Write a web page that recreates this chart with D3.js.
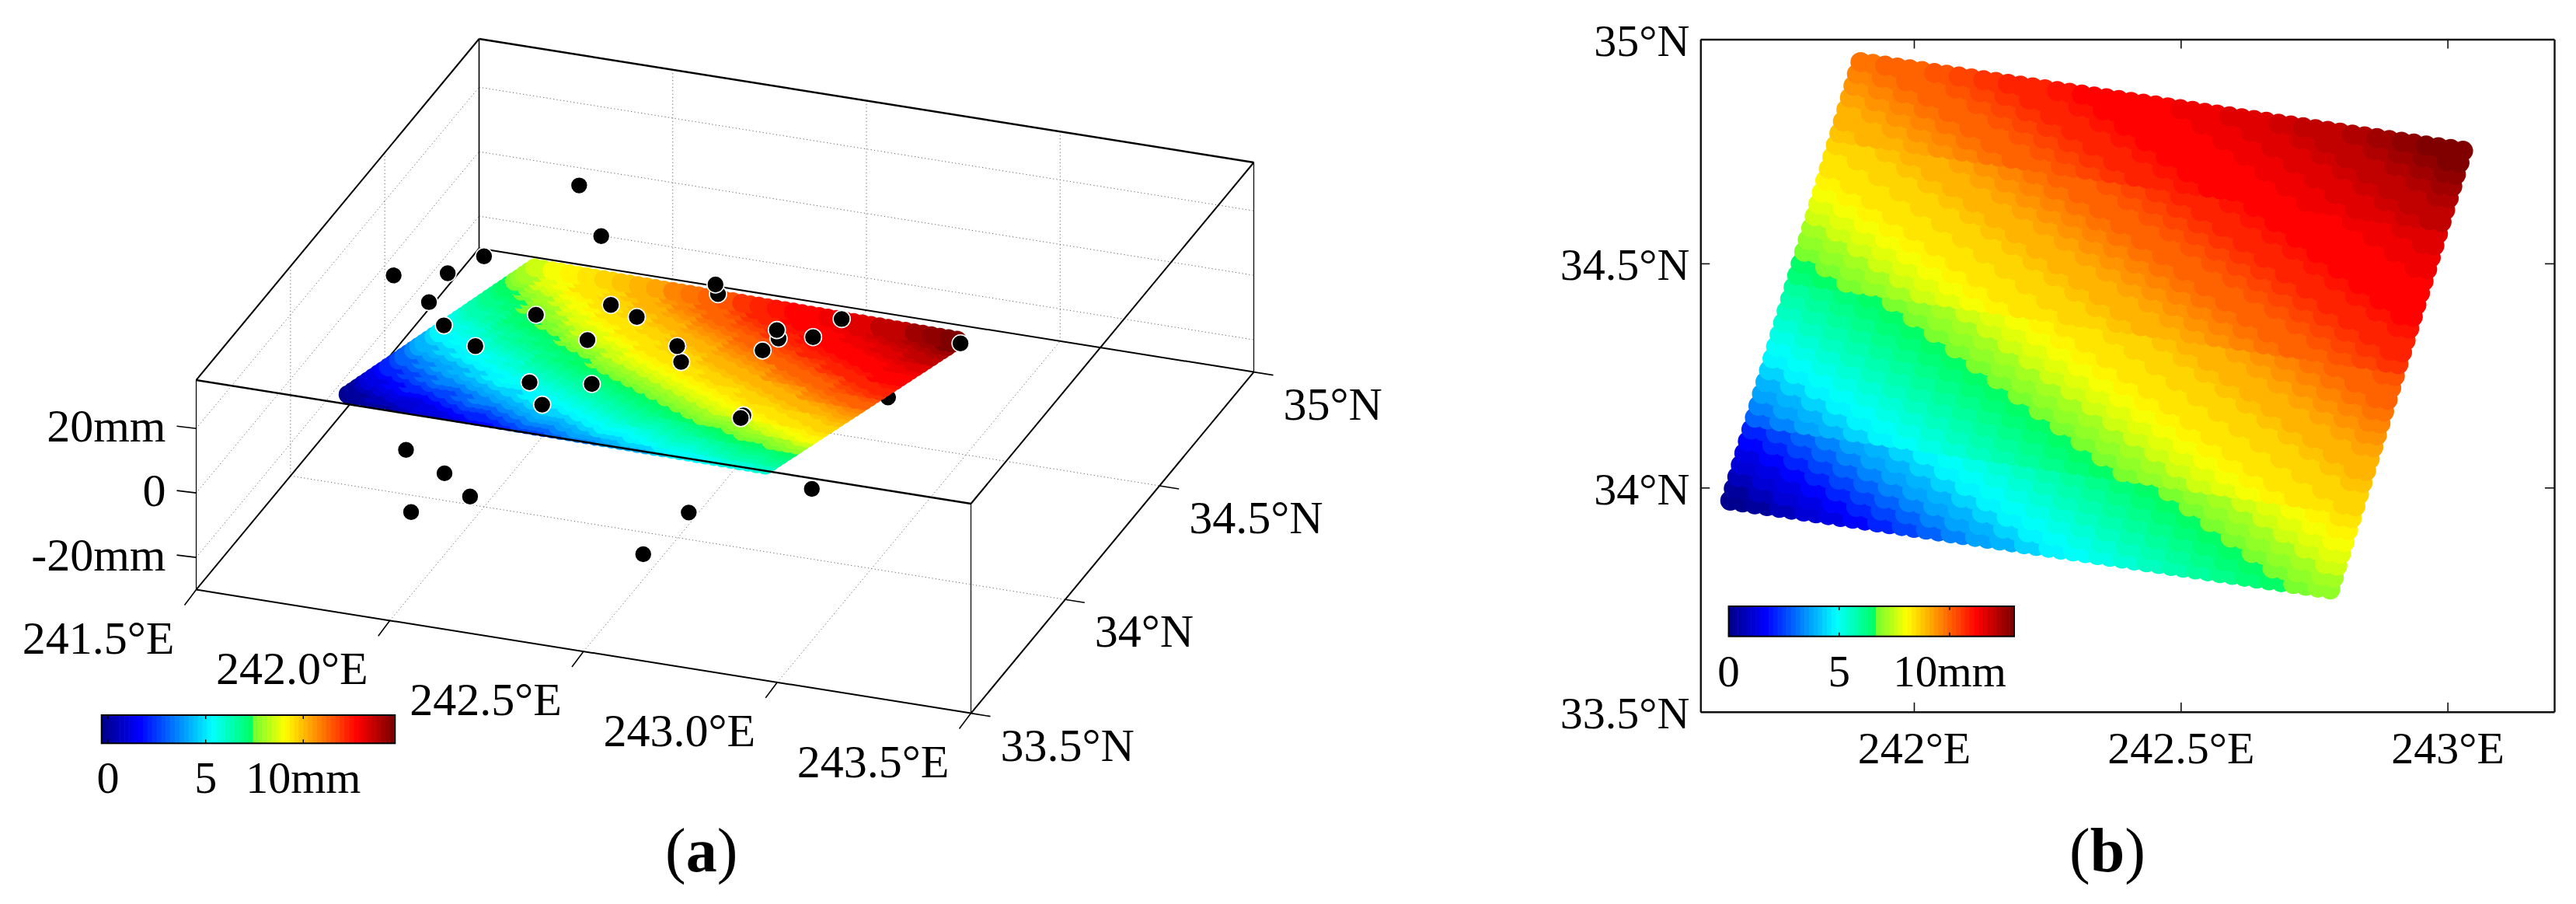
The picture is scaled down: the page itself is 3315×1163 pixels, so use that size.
<!DOCTYPE html>
<html>
<head>
<meta charset="utf-8">
<script src="https://cdn.jsdelivr.net/npm/d3@7/dist/d3.min.js"></script>
<style>
html,body{margin:0;padding:0;background:#fff;}
svg{display:block;}
text{font-family:"Liberation Serif",serif;fill:#000;}
</style>
</head>
<body>
<svg id="chart" width="3315" height="1163"></svg>
<script>
// ---- axis ticks and labels ----
const lonTicks3D = [241.5, 242, 242.5, 243, 243.5];
const lonLabels3D = ["241.5°E", "242.0°E", "242.5°E", "243.0°E", "243.5°E"];
const latTicks3D = [33.5, 34, 34.5, 35];
const latLabels3D = ["33.5°N", "34°N", "34.5°N", "35°N"];
const zTicks = [-20, 0, 20];
const zLabels = ["-20mm", "0", "20mm"];
const lonTicksMap = [242, 242.5, 243];
const lonLabelsMap = ["242°E", "242.5°E", "243°E"];
const latTicksMap = [33.5, 34, 34.5, 35];
const latLabelsMap = ["33.5°N", "34°N", "34.5°N", "35°N"];
const barTicks = [0, 5, 10];
const barLabels = ["0", "5", "10mm"];

// ---- GPS stations of panel (a): lon, lat on the z = 0 plane ----
const stationBelowLon = [242.897];
const stationBelowLat = [34.299];
const stationLon = [241.792,241.938,241.709,241.539,241.658,241.670,241.748,241.859,241.938,242.090,242.172,242.103,242.051,242.196,242.122,242.314,242.290,242.358,242.319,242.536,242.516,242.522,242.612,242.643,242.601,242.600,241.897,242.029,242.131,242.026,242.660,242.635,242.896,242.960];
const stationLat = [34.931,34.748,34.597,34.467,34.509,34.385,34.304,34.243,34.402,34.487,34.456,34.336,34.136,34.168,34.057,34.595,34.631,34.309,34.368,34.460,34.492,34.404,34.487,34.575,34.140,34.128,33.797,33.730,33.656,33.559,33.729,33.539,33.897,34.554];

// ---- corners of the sampled swath (top-left, top-right, bottom-left, bottom-right) ----
const swathLonMap = [241.900, 243.029, 241.656, 242.780];
const swathLatMap = [34.949, 34.751, 33.971, 33.773];
const swathLon3D = [241.846, 242.946, 241.660, 242.745];
const swathLat3D = [34.584, 34.565, 33.976, 33.960];
const swathCols = 50, swathRows = 38;

// ---- deformation in mm, read off the picture along the direction of steepest change,
//      from the south-west corner to the north-east corner ----
const mmProfile = [0.0,0.4,0.7,1.1,1.4,1.8,2.2,2.5,2.9,3.3,3.7,4.0,4.4,4.8,5.0,5.2,5.4,5.5,5.7,5.9,6.1,6.3,6.5,6.7,7.0,7.2,7.5,7.7,8.0,8.1,8.3,8.4,8.5,8.6,8.7,8.9,9.0,9.1,9.3,9.5,9.7,9.9,10.1,10.3,10.4,10.6,10.8,10.9,11.1,11.2,11.2,11.3,11.3,11.4,11.5,11.6,11.7,11.8,12.0,12.1,12.3,12.4,12.6,12.8,12.9];
// where each swath row (north to south) starts and ends on that profile, panel (b)
const rowStartMap = [40,39,38,37,36,35,34,32,31,30,29,28,27,26,25,24,23,22,21,19,18,17,16,15,14,13,12,11,10,9,8,6,5,4,3,2,1,0];
const rowEndMap = [64,63,62,61,60,59,58,56,55,54,53,52,51,50,49,48,47,46,45,43,42,41,40,39,38,37,36,35,34,33,32,30,29,28,27,26,25,24];
// the same for panel (a)
const rowStart3D = [26,25,25,24,23,22,22,21,20,20,19,18,18,17,16,15,15,14,13,13,12,11,11,10,9,8,8,7,6,6,5,4,4,3,2,1,1,0];
const rowEnd3D = [64,63,61,60,59,58,56,55,54,52,51,50,48,47,46,45,43,42,41,39,38,37,35,34,33,32,30,29,28,26,25,24,22,21,20,19,17,16];
const mmMax = 12.93;

// ---- colour map ----
const jet = d3.scaleLinear()
  .domain([0, 0.125, 0.375, 0.51, 0.515, 0.625, 0.875, 1])
  .range(["rgb(0,0,143)", "rgb(0,0,255)", "rgb(0,255,255)", "rgb(0,255,100)", "rgb(110,255,50)", "rgb(255,255,0)", "rgb(255,0,0)", "rgb(128,0,0)"])
  .clamp(true);
const levels = d3.range(64);
const mmColor = mm => jet(Math.min(63, Math.floor(mm / mmMax * 64)) / 63);

const svg = d3.select("#chart");

// ---- swath nodes ----
function swathNodes(lons, lats, starts, ends) {
  const nodes = [];
  for (let j = swathRows - 1; j >= 0; j--) {
    const t = j / (swathRows - 1);
    for (let i = 0; i < swathCols; i++) {
      const u = i / (swathCols - 1);
      const blend = a => (1 - t) * ((1 - u) * a[0] + u * a[1]) + t * ((1 - u) * a[2] + u * a[3]);
      const place = Math.round(starts[j] + (ends[j] - starts[j]) * Math.floor(i / 2) / 24);
      nodes.push({lon: blend(lons), lat: blend(lats), mm: mmProfile[place]});
    }
  }
  return nodes;
}

// =========================== panel (a) ===========================
const lonSpan = [241.5, 243.5], latSpan = [33.5, 35], zSpan = [-30, 35];
const lonX = d3.scaleLinear().domain(lonSpan).range([252.5, 1249.5]);
const lonY = d3.scaleLinear().domain(lonSpan).range([0, 159]);
const latX = d3.scaleLinear().domain(latSpan).range([0, 364]);
const latY = d3.scaleLinear().domain(latSpan).range([0, -439]);
const zY = d3.scaleLinear().domain(zSpan).range([758.6, 489]);
const px = (lon, lat) => lonX(lon) + latX(lat);
const py = (lon, lat, z) => zY(z) + lonY(lon) + latY(lat);
const P = (lon, lat, z) => [px(lon, lat), py(lon, lat, z)];

const a = svg.append("g").attr("id", "panel-a");
const seg = (g, p, q, w, c, dash) => g.append("line")
  .attr("x1", p[0]).attr("y1", p[1]).attr("x2", q[0]).attr("y2", q[1])
  .attr("stroke", c || "#000").attr("stroke-width", w).attr("stroke-dasharray", dash || null);

// grid
const grid = a.append("g");
const [zLo, zHi] = zSpan, [lonLo, lonHi] = lonSpan, [latLo, latHi] = latSpan;
const gridColor = "#666", gridDash = "1.2 3.2";
lonTicks3D.slice(1, -1).forEach(lon => {
  seg(grid, P(lon, latLo, zLo), P(lon, latHi, zLo), 1, gridColor, gridDash);
  seg(grid, P(lon, latHi, zLo), P(lon, latHi, zHi), 1, gridColor, gridDash);
});
latTicks3D.slice(1, -1).forEach(lat => {
  seg(grid, P(lonLo, lat, zLo), P(lonHi, lat, zLo), 1, gridColor, gridDash);
  seg(grid, P(lonLo, lat, zLo), P(lonLo, lat, zHi), 1, gridColor, gridDash);
});
zTicks.forEach(z => {
  seg(grid, P(lonLo, latLo, z), P(lonLo, latHi, z), 1, gridColor, gridDash);
  seg(grid, P(lonLo, latHi, z), P(lonHi, latHi, z), 1, gridColor, gridDash);
});

// box edges under the surface
const under = a.append("g");
seg(under, P(lonLo, latLo, zHi), P(lonLo, latHi, zHi), 2);
seg(under, P(lonLo, latHi, zHi), P(lonHi, latHi, zHi), 2.4);
seg(under, P(lonLo, latLo, zLo), P(lonLo, latHi, zLo), 2);
seg(under, P(lonLo, latLo, zLo), P(lonHi, latLo, zLo), 2);
seg(under, P(lonHi, latLo, zLo), P(lonHi, latHi, zLo), 2);
seg(under, P(lonLo, latLo, zLo), P(lonLo, latLo, zHi), 1.2);
seg(under, P(lonLo, latHi, zLo), P(lonLo, latHi, zHi), 1.6);
seg(under, P(lonHi, latLo, zLo), P(lonHi, latLo, zHi), 1.2);
seg(under, P(lonHi, latHi, zLo), P(lonHi, latHi, zHi), 1.2);
seg(under, P(lonHi, latHi, zHi), P(lonHi, latLo, zHi), 2);

// ticks and labels
lonTicks3D.forEach((lon, i) => {
  const p = P(lon, latLo, zLo);
  seg(a, p, [p[0] - 15, p[1] + 20], 1.6);
  a.append("text").attr("x", p[0] - 126).attr("y", p[1] + 82).attr("text-anchor", "middle")
    .attr("font-size", 60).text(lonLabels3D[i]);
});
latTicks3D.forEach((lat, i) => {
  const p = P(lonHi, lat, zLo);
  seg(a, p, [p[0] + 25, p[1] + 4], 1.6);
  a.append("text").attr("x", p[0] + 38).attr("y", p[1] + 61).attr("font-size", 60).text(latLabels3D[i]);
});
zTicks.forEach((z, i) => {
  const p = P(lonLo, latLo, z);
  seg(a, p, [p[0] - 25, p[1] - 3], 1.6);
  a.append("text").attr("x", p[0] - 39).attr("y", p[1] + 17).attr("text-anchor", "end")
    .attr("font-size", 60).text(zLabels[i]);
});

// station hidden by the surface
const drawStations = (lons, lats) => a.append("g").selectAll("circle").data(lons).join("circle")
  .attr("cx", (d, i) => px(d, lats[i]))
  .attr("cy", (d, i) => py(d, lats[i], 0))
  .attr("r", 11).attr("fill", "#000").attr("stroke", "#fff").attr("stroke-width", 1.6);
drawStations(stationBelowLon, stationBelowLat);

// surface
a.append("g").selectAll("circle").data(swathNodes(swathLon3D, swathLat3D, rowStart3D, rowEnd3D)).join("circle")
  .attr("cx", d => px(d.lon, d.lat))
  .attr("cy", d => py(d.lon, d.lat, 0))
  .attr("r", 12).attr("fill", d => mmColor(d.mm));

// box edges over the surface
const over = a.append("g");
seg(over, P(lonLo, latLo, zHi), P(lonHi, latLo, zHi), 2.4);
seg(over, P(lonLo, latHi, zLo), P(lonHi, latHi, zLo), 2);

drawStations(stationLon, stationLat);

// colour bar with a ticked axis
function colorBar(g, x0, x1, y0, y1, scale, fontSize, labelY) {
  const band = d3.scaleBand().domain(levels).range([x0, x1]);
  g.append("g").selectAll("rect").data(levels).join("rect")
    .attr("x", d => band(d)).attr("y", y0).attr("width", band.bandwidth() + 0.6).attr("height", y1 - y0)
    .attr("fill", d => jet(d / 63));
  g.append("rect").attr("x", x0).attr("y", y0).attr("width", x1 - x0).attr("height", y1 - y0)
    .attr("fill", "none").attr("stroke", "#000").attr("stroke-width", 2);
  barTicks.forEach(t => {
    g.append("line").attr("x1", scale(t)).attr("x2", scale(t)).attr("y1", y0).attr("y2", y0 + 5).attr("stroke", "#000").attr("stroke-width", 1.4);
    g.append("line").attr("x1", scale(t)).attr("x2", scale(t)).attr("y1", y1).attr("y2", y1 - 5).attr("stroke", "#000").attr("stroke-width", 1.4);
  });
  g.append("g").selectAll("text").data(barTicks).join("text")
    .attr("x", d => scale(d)).attr("y", labelY).attr("text-anchor", "middle")
    .attr("font-size", fontSize).text((d, i) => barLabels[i]);
}
colorBar(a.append("g"), 130.7, 508.3, 920, 956.3, d3.scaleLinear().domain([0, 10]).range([139, 390.3]), 58, 1020);

a.append("text").attr("x", 902.7).attr("y", 1120.7).attr("text-anchor", "middle").attr("font-size", 80)
  .html('(<tspan font-weight="bold">a</tspan>)');

// =========================== panel (b) ===========================
const b = svg.append("g").attr("id", "panel-b");
const xMap = d3.scaleLinear().domain([241.6, 243.2]).range([2188.3, 3287]);
const yMap = d3.scaleLinear().domain([33.5, 35]).range([915.7, 50.5]);

b.append("g").selectAll("circle").data(swathNodes(swathLonMap, swathLatMap, rowStartMap, rowEndMap)).join("circle")
  .attr("cx", d => xMap(d.lon)).attr("cy", d => yMap(d.lat))
  .attr("r", 13).attr("fill", d => mmColor(d.mm));

const styleAxis = g => {
  g.selectAll("path").attr("stroke", "#111").attr("stroke-width", 2.4);
  g.selectAll("line").attr("stroke", "#111").attr("stroke-width", 1.6);
  g.selectAll("text").attr("font-family", '"Liberation Serif",serif').attr("font-size", 58).attr("fill", "#000");
};
b.append("g").attr("transform", `translate(0,${yMap.range()[0]})`)
  .call(d3.axisBottom(xMap).tickValues(lonTicksMap).tickSizeInner(-12).tickSizeOuter(0).tickPadding(25)
    .tickFormat((d, i) => lonLabelsMap[i])).call(styleAxis);
b.append("g").attr("transform", `translate(${xMap.range()[0]},0)`)
  .call(d3.axisLeft(yMap).tickValues(latTicksMap).tickSizeInner(-12).tickSizeOuter(0).tickPadding(14)
    .tickFormat((d, i) => latLabelsMap[i])).call(styleAxis)
  .call(g => g.selectAll("text").attr("dy", 21));
b.append("g").attr("transform", `translate(0,${yMap.range()[1]})`)
  .call(d3.axisTop(xMap).tickValues(lonTicksMap).tickSizeInner(-12).tickSizeOuter(0).tickFormat("")).call(styleAxis);
b.append("g").attr("transform", `translate(${xMap.range()[1]},0)`)
  .call(d3.axisRight(yMap).tickValues(latTicksMap).tickSizeInner(-12).tickSizeOuter(0).tickFormat("")).call(styleAxis);

colorBar(b.append("g"), 2224.6, 2592, 780, 818.7, d3.scaleLinear().domain([0, 10]).range([2224.6, 2509]), 57, 882.7);

b.append("text").attr("x", 2712).attr("y", 1121).attr("text-anchor", "middle").attr("font-size", 80)
  .html('(<tspan font-weight="bold">b</tspan>)');
</script>
</body>
</html>
